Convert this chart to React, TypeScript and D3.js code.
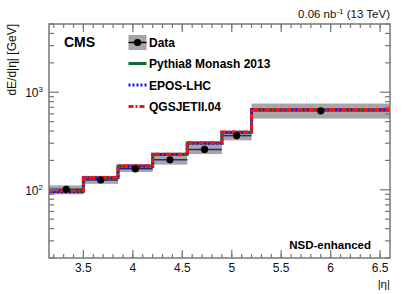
import React from 'react';
import * as d3 from 'd3';

// bin edges in |eta| and the measured / simulated dE/d|eta| values (GeV)
const binEdges = [3.152, 3.5, 3.85, 4.2, 4.55, 4.9, 5.2, 6.6];
const dataValues = [101, 126, 164, 203, 259, 359, 644];
const dataLow = [90, 115, 152, 181, 232, 321, 537];
const dataHigh = [111, 139, 177, 235, 301, 393, 765];
const pythia = [96, 133, 175, 231, 301, 389, 663];
const epos = [95, 132, 174, 230, 300, 387, 660];
const qgsjet = [97, 134, 176, 232, 303, 390, 665];

const xTickValues = [3.5, 4, 4.5, 5, 5.5, 6, 6.5];
const xTickLabels = ['3.5', '4', '4.5', '5', '5.5', '6', '6.5'];
const yMajorTicks = [100, 1000];
const yMajorExponents = ['2', '3'];

const W = 407;
const H = 294;
const left = 49, right = 390, top = 24, bottom = 258;
const font = '"Liberation Sans", Arial, Helvetica, sans-serif';
const axisColor = '#777';

const x = d3.scaleLinear().domain([3.152, 6.6]).range([left, right]);
const y = d3.scaleLog().domain([20, 5000]).range([bottom, top]);

// step histogram path from bin edges and values
const stepPath = (vals: number[]) => {
  const pts: [number, number][] = [];
  vals.forEach((v, i) => {
    pts.push([x(binEdges[i]), y(v)]);
    pts.push([x(binEdges[i + 1]), y(v)]);
  });
  return d3.line()(pts) ?? '';
};

const models = [
  { name: 'Pythia8 Monash 2013', vals: pythia, color: '#0a6b35', dash: undefined },
  { name: 'EPOS-LHC', vals: epos, color: '#1010ff', dash: '2,2' },
  { name: 'QGSJETII.04', vals: qgsjet, color: '#ff1010', dash: '5,2,2,2' },
];

const App = () => {
  const xMinor = d3.range(3.2, 6.61, 0.1).filter(v => v >= 3.152 && v <= 6.6);
  const yMinor: number[] = [];
  [10, 100, 1000].forEach(d => {
    for (let k = 2; k <= 9; k++) {
      const v = k * d;
      if (v >= 20 && v <= 5000) yMinor.push(v);
    }
  });

  return (
    <svg width={W} height={H} style={{ position: 'absolute', left: 0, top: 0, background: '#fff' }}
      fontFamily={font}>
      {/* data uncertainty boxes */}
      {dataValues.map((v, i) => (
        <rect key={'box' + i} x={x(binEdges[i])} width={x(binEdges[i + 1]) - x(binEdges[i])}
          y={y(dataHigh[i])} height={y(dataLow[i]) - y(dataHigh[i])} fill="#a6a6a6" />
      ))}

      {/* data horizontal bars */}
      {dataValues.map((v, i) => (
        <line key={'bar' + i} x1={x(binEdges[i])} x2={x(binEdges[i + 1])} y1={y(v)} y2={y(v)}
          stroke="#1c2a9a" strokeWidth={1.5} />
      ))}

      {/* model step histograms */}
      {models.map(m => (
        <path key={m.name} d={stepPath(m.vals)} fill="none" stroke={m.color}
          strokeWidth={3} strokeDasharray={m.dash} />
      ))}

      {/* data points */}
      {dataValues.map((v, i) => (
        <circle key={'pt' + i} cx={x((binEdges[i] + binEdges[i + 1]) / 2)} cy={y(v)} r={3.6} fill="#000" />
      ))}

      {/* frame */}
      <rect x={left} y={top} width={right - left} height={bottom - top} fill="none"
        stroke={axisColor} strokeWidth={1.5} />

      {/* x ticks (bottom and top) */}
      {xTickValues.map(v => (
        <g key={'xt' + v}>
          <line x1={x(v)} x2={x(v)} y1={bottom} y2={bottom - 8} stroke={axisColor} strokeWidth={1.2} />
          <line x1={x(v)} x2={x(v)} y1={top} y2={top + 8} stroke={axisColor} strokeWidth={1.2} />
        </g>
      ))}
      {xMinor.map(v => (
        <g key={'xm' + v}>
          <line x1={x(v)} x2={x(v)} y1={bottom} y2={bottom - 4} stroke={axisColor} strokeWidth={1.2} />
          <line x1={x(v)} x2={x(v)} y1={top} y2={top + 4} stroke={axisColor} strokeWidth={1.2} />
        </g>
      ))}

      {/* y ticks (left and right) */}
      {yMajorTicks.map(v => (
        <g key={'yt' + v}>
          <line x1={left} x2={left + 10} y1={y(v)} y2={y(v)} stroke={axisColor} strokeWidth={1.2} />
          <line x1={right} x2={right - 10} y1={y(v)} y2={y(v)} stroke={axisColor} strokeWidth={1.2} />
        </g>
      ))}
      {yMinor.map(v => (
        <g key={'ym' + v}>
          <line x1={left} x2={left + 5} y1={y(v)} y2={y(v)} stroke={axisColor} strokeWidth={1.2} />
          <line x1={right} x2={right - 5} y1={y(v)} y2={y(v)} stroke={axisColor} strokeWidth={1.2} />
        </g>
      ))}

      {/* x tick labels */}
      {xTickValues.map((v, i) => (
        <text key={'xl' + v} x={x(v)} y={272} textAnchor="middle" fontSize={12} fill="#111">
          {xTickLabels[i]}
        </text>
      ))}

      {/* y tick labels */}
      {yMajorTicks.map((v, i) => (
        <text key={'yl' + v} x={43} y={y(v) + 5} textAnchor="end" fontSize={12} fill="#111">
          10<tspan dy={-5} fontSize={8}>{yMajorExponents[i]}</tspan>
        </text>
      ))}

      {/* axis titles */}
      <text transform={`translate(16,${top}) rotate(-90)`} textAnchor="end" fontSize={12} fill="#111">
        dE/d|η| [GeV]
      </text>
      <text x={390} y={288} textAnchor="end" fontSize={11.5} fill="#111">|η|</text>

      {/* header */}
      <text x={390} y={18} textAnchor="end" fontSize={11.5} fill="#111">
        0.06 nb<tspan dy={-4} fontSize={8}>-1</tspan><tspan dy={4}> (13 TeV)</tspan>
      </text>
      <text x={64} y={47} fontSize={14} fontWeight="bold" fill="#000">CMS</text>
      <text x={371} y={249} textAnchor="end" fontSize={11.5} fontWeight="bold" fill="#000">NSD-enhanced</text>

      {/* legend */}
      <g>
        <rect x={128.5} y={35} width={18} height={15} fill="#a6a6a6" />
        <line x1={128.5} x2={146.5} y1={42.5} y2={42.5} stroke="#000" strokeWidth={1.5} />
        <circle cx={137.5} cy={42.5} r={3.6} fill="#000" />
        <text x={149} y={47} fontSize={12} fontWeight="bold" fill="#000">Data</text>
        {models.map((m, i) => {
          const ly = [63.5, 85, 106.5][i];
          return (
            <g key={'lg' + m.name}>
              <line x1={128.5} x2={146.5} y1={ly} y2={ly} stroke={m.color} strokeWidth={3}
                strokeDasharray={m.dash} />
              <text x={149} y={ly + 4.5} fontSize={12} fontWeight="bold" fill="#000">{m.name}</text>
            </g>
          );
        })}
      </g>
    </svg>
  );
};

export default App;
